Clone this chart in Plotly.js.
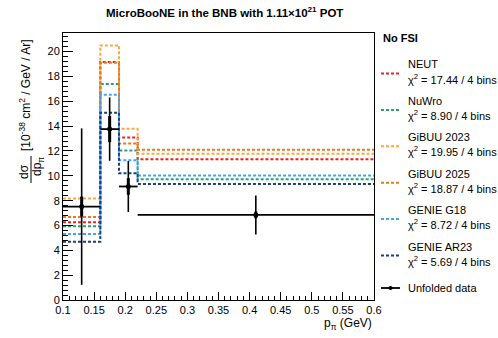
<!DOCTYPE html>
<html>
<head>
<meta charset="utf-8">
<script src="https://cdn.plot.ly/plotly-3.0.1.min.js"></script>
<style>
  body { margin: 0; background: #fff; }
  #plot { width: 498px; height: 338px; }
</style>
</head>
<body>
<div id="plot"></div>
<script>
// Bins and measured data
const binEdges = [0.1, 0.16, 0.19, 0.22, 0.6];
const binCenters = [0.13, 0.175, 0.205, 0.41];
const binHalfWidths = [0.03, 0.015, 0.015, 0.19];
const dataVals = [7.52, 13.76, 9.14, 6.85];
const totalErr = [6.3, 2.55, 2.05, 1.57];
const statErr = [0.8, 1.05, 0.67, 0.27];

// Generator predictions (one value per bin)
const neut = [6.26, 19.17, 13.09, 11.34];
const nuwro = [5.94, 17.39, 12.04, 9.73];
const gibuu2023 = [8.17, 20.5, 13.79, 11.77];
const gibuu2025 = [6.69, 19.1, 12.6, 12.1];
const genieG18 = [5.32, 16.53, 11.26, 10.03];
const genieAR23 = [4.70, 15.08, 10.2, 9.35];

const modelNames = ["NEUT", "NuWro", "GiBUU 2023", "GiBUU 2025", "GENIE G18", "GENIE AR23"];
const modelChi2 = ["17.44", "8.90", "19.95", "18.87", "8.72", "5.69"];
const modelVals = [neut, nuwro, gibuu2023, gibuu2025, genieG18, genieAR23];
const modelColors = ["#ee2222", "#2e9e70", "#ffa640", "#e07b20", "#40a4ff", "#1c3f7e"];

// pixel -> paper helpers (plot area is 63..374 x 33..300)
const px = (x) => (x - 63) / 311;
const py = (y) => (300 - y) / 267;

const traces = [];

modelVals.forEach((vals, i) => {
  traces.push({
    x: binEdges,
    y: vals.concat([vals[vals.length - 1]]),
    type: "scatter",
    mode: "lines",
    line: { shape: "hv", color: modelColors[i], width: 2, dash: "3px,2px" },
    hoverinfo: "skip",
  });
});

// total uncertainty + bin width
traces.push({
  x: binCenters,
  y: dataVals,
  type: "scatter",
  mode: "markers",
  marker: { color: "black", size: 1 },
  error_y: { type: "data", array: totalErr, color: "black", thickness: 1.6, width: 0 },
  error_x: { type: "data", array: binHalfWidths, color: "black", thickness: 1.8, width: 0 },
});

// stat-only uncertainty (thicker)
traces.push({
  x: binCenters,
  y: dataVals,
  type: "scatter",
  mode: "markers",
  marker: { color: "black", size: 5 },
  error_y: { type: "data", array: statErr, color: "black", thickness: 3, width: 0 },
});

const annotations = [];
const shapes = [];
const txtFont = { family: "Liberation Sans, Arial, sans-serif", size: 11, color: "black" };

// title
annotations.push({
  text: "<b>MicroBooNE in the BNB with 1.11×10<sup>21</sup> POT</b>",
  xref: "paper", yref: "paper", x: px(224), y: py(12),
  xanchor: "center", yanchor: "middle", showarrow: false,
  font: { family: "Liberation Sans, Arial, sans-serif", size: 11.5, color: "black" },
});

// x axis title
annotations.push({
  text: "p<sub>π</sub> (GeV)",
  xref: "paper", yref: "paper", x: px(374), y: py(324),
  xanchor: "right", yanchor: "middle", showarrow: false,
  font: { family: "Liberation Sans, Arial, sans-serif", size: 12, color: "black" },
});

// y axis title: fraction + units
annotations.push({
  text: "dσ", xref: "paper", yref: "paper", x: px(24), y: py(172),
  xanchor: "center", yanchor: "middle", showarrow: false, textangle: -90,
  font: { family: "Liberation Sans, Arial, sans-serif", size: 12, color: "black" },
});
annotations.push({
  text: "dp<sub>π</sub>", xref: "paper", yref: "paper", x: px(38), y: py(167),
  xanchor: "center", yanchor: "middle", showarrow: false, textangle: -90,
  font: { family: "Liberation Sans, Arial, sans-serif", size: 12, color: "black" },
});
shapes.push({
  type: "line", xref: "paper", yref: "paper",
  x0: px(31), x1: px(31), y0: py(156), y1: py(183),
  line: { color: "black", width: 1 },
});
annotations.push({
  text: "[10<sup>-38</sup> cm<sup>2</sup> / GeV / Ar]", xref: "paper", yref: "paper",
  x: px(25), y: py(95),
  xanchor: "center", yanchor: "middle", showarrow: false, textangle: -90,
  font: { family: "Liberation Sans, Arial, sans-serif", size: 12, color: "black" },
});

// legend
annotations.push({
  text: "<b>No FSI</b>", xref: "paper", yref: "paper", x: px(381), y: py(38),
  xanchor: "left", yanchor: "middle", showarrow: false,
  font: { family: "Liberation Sans, Arial, sans-serif", size: 11, color: "black" },
});
modelNames.forEach((name, i) => {
  const top = 64.5 + i * 36.4;
  annotations.push({
    text: name, xref: "paper", yref: "paper", x: px(406), y: py(top),
    xanchor: "left", yanchor: "middle", showarrow: false, font: txtFont,
  });
  annotations.push({
    text: "χ<sup>2</sup> = " + modelChi2[i] + " / 4 bins", xref: "paper", yref: "paper",
    x: px(406), y: py(top + 14),
    xanchor: "left", yanchor: "middle", showarrow: false, font: txtFont,
  });
  shapes.push({
    type: "line", xref: "paper", yref: "paper",
    x0: px(381), x1: px(400), y0: py(top + 9), y1: py(top + 9),
    line: { color: modelColors[i], width: 2, dash: "3px,2px" },
  });
});
annotations.push({
  text: "Unfolded data", xref: "paper", yref: "paper", x: px(406), y: py(288),
  xanchor: "left", yanchor: "middle", showarrow: false, font: txtFont,
});
shapes.push({
  type: "line", xref: "paper", yref: "paper",
  x0: px(381), x1: px(400), y0: py(288), y1: py(288),
  line: { color: "black", width: 1.8 },
});
shapes.push({
  type: "circle", xref: "paper", yref: "paper",
  x0: px(388.5), x1: px(392.5), y0: py(286), y1: py(290),
  fillcolor: "black", line: { color: "black", width: 0 },
});

const axisFont = { family: "Liberation Sans, Arial, sans-serif", size: 11, color: "black" };

const layout = {
  width: 498,
  height: 338,
  margin: { l: 63, r: 124, t: 33, b: 38 },
  paper_bgcolor: "white",
  plot_bgcolor: "white",
  showlegend: false,
  xaxis: {
    range: [0.1, 0.6],
    tick0: 0.1,
    dtick: 0.05,
    ticks: "inside",
    ticklen: 8,
    tickcolor: "black",
    tickfont: axisFont,
    showgrid: false,
    zeroline: false,
    showline: true,
    mirror: true,
    linecolor: "black",
    linewidth: 1,
    minor: { dtick: 0.01, ticks: "inside", ticklen: 4, tickcolor: "black", showgrid: false },
  },
  yaxis: {
    range: [0, 21.5],
    tick0: 0,
    dtick: 2,
    ticks: "inside",
    ticklen: 10,
    tickcolor: "black",
    tickfont: axisFont,
    showgrid: false,
    zeroline: false,
    showline: true,
    mirror: true,
    linecolor: "black",
    linewidth: 1,
    minor: { dtick: 0.4, ticks: "inside", ticklen: 5, tickcolor: "black", showgrid: false },
  },
  annotations: annotations,
  shapes: shapes,
};

Plotly.newPlot("plot", traces, layout, { displayModeBar: false, staticPlot: true });
</script>
</body>
</html>
